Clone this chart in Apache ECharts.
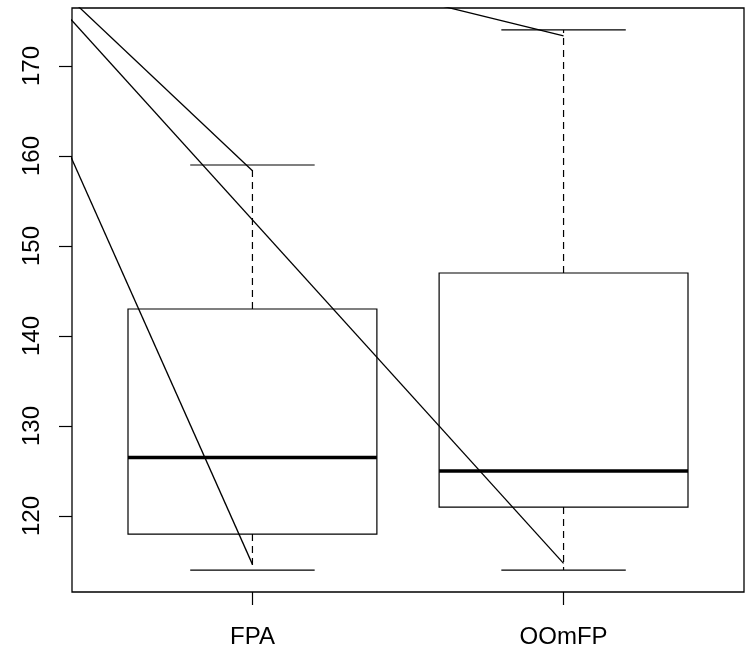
<!DOCTYPE html>
<html>
<head>
<meta charset="utf-8">
<script src="https://cdn.jsdelivr.net/npm/echarts@6/dist/echarts.min.js"></script>
<style>html,body{margin:0;padding:0;background:#fff}#c{width:750px;height:657px}</style>
</head>
<body>
<div id="c"></div>
<script>
var categories = ['FPA', 'OOmFP'];
var whiskerLow = [114, 114];
var hingeLow = [118, 121];
var medians = [126.5, 125];
var hingeHigh = [143, 147];
var whiskerHigh = [159, 174];
var yTicks = [120, 130, 140, 150, 160, 170];
// overlaid segments: start at x=0 (outside plot, clipped), end at a group position
var segStartY = [192.2, 191.06, 190.97, 190.37];
var segEndX = [1, 2, 1, 2];
var segEndY = [114.63, 114.74, 158.37, 173.33];

var boxData = categories.map(function (c, i) {
  return [i + 1, whiskerLow[i], hingeLow[i], medians[i], hingeHigh[i], whiskerHigh[i]];
});

function renderBox(params, api) {
  var x = api.value(0);
  var wl = api.coord([x, api.value(1)]);
  var hl = api.coord([x, api.value(2)]);
  var md = api.coord([x, api.value(3)]);
  var hh = api.coord([x, api.value(4)]);
  var wh = api.coord([x, api.value(5)]);
  var bw = api.size([0.8, 0])[0];
  var sw = api.size([0.4, 0])[0];
  var cx = wl[0];
  var black = '#000';
  return {
    type: 'group',
    children: [
      {type: 'line', shape: {x1: cx, y1: hh[1], x2: cx, y2: wh[1]}, style: {stroke: black, lineWidth: 1.2, lineDash: [7, 5]}},
      {type: 'line', shape: {x1: cx, y1: hl[1], x2: cx, y2: wl[1]}, style: {stroke: black, lineWidth: 1.2, lineDash: [7, 5]}},
      {type: 'line', shape: {x1: cx - sw / 2, y1: wh[1], x2: cx + sw / 2, y2: wh[1]}, style: {stroke: black, lineWidth: 1.2}},
      {type: 'line', shape: {x1: cx - sw / 2, y1: wl[1], x2: cx + sw / 2, y2: wl[1]}, style: {stroke: black, lineWidth: 1.2}},
      {type: 'rect', shape: {x: cx - bw / 2, y: hh[1], width: bw, height: hl[1] - hh[1]}, style: {fill: '#fff', stroke: black, lineWidth: 1.2}},
      {type: 'line', shape: {x1: cx - bw / 2, y1: md[1], x2: cx + bw / 2, y2: md[1]}, style: {stroke: black, lineWidth: 3.5}}
    ]
  };
}

var series = [{
  type: 'custom',
  renderItem: renderBox,
  data: boxData,
  encode: {x: 0, y: [1, 2, 3, 4, 5]},
  clip: true,
  z: 2,
  silent: true
}];
segStartY.forEach(function (y0, i) {
  series.push({
    type: 'line',
    data: [[0, y0], [segEndX[i], segEndY[i]]],
    symbol: 'none',
    clip: true,
    lineStyle: {color: '#000', width: 1.3},
    z: 5,
    silent: true,
    animation: false
  });
});

var chart = echarts.init(document.getElementById('c'), null, {renderer: 'canvas'});
chart.setOption({
  animation: false,
  backgroundColor: '#fff',
  grid: {left: 72, right: 6, top: 8, bottom: 65, show: true, borderColor: '#000', borderWidth: 1.3, backgroundColor: 'transparent'},
  xAxis: {
    type: 'value', min: 0.42, max: 2.58,
    splitLine: {show: false},
    axisLine: {show: false},
    axisTick: {show: true, length: 13, lineStyle: {color: '#000', width: 1.2}, customValues: [1, 2]},
    axisLabel: {
      customValues: [1, 2], margin: 33, fontSize: 24, color: '#000', fontFamily: 'Liberation Sans',
      formatter: function (v) { return categories[Math.round(v) - 1]; }
    }
  },
  yAxis: {
    type: 'value', min: 111.56, max: 176.44,
    splitLine: {show: false},
    axisLine: {show: false},
    axisTick: {show: true, length: 13, lineStyle: {color: '#000', width: 1.2}, customValues: yTicks},
    axisLabel: {customValues: yTicks, rotate: 90, margin: 28, fontSize: 24, color: '#000', fontFamily: 'Liberation Sans'}
  },
  series: series
});
</script>
</body>
</html>
